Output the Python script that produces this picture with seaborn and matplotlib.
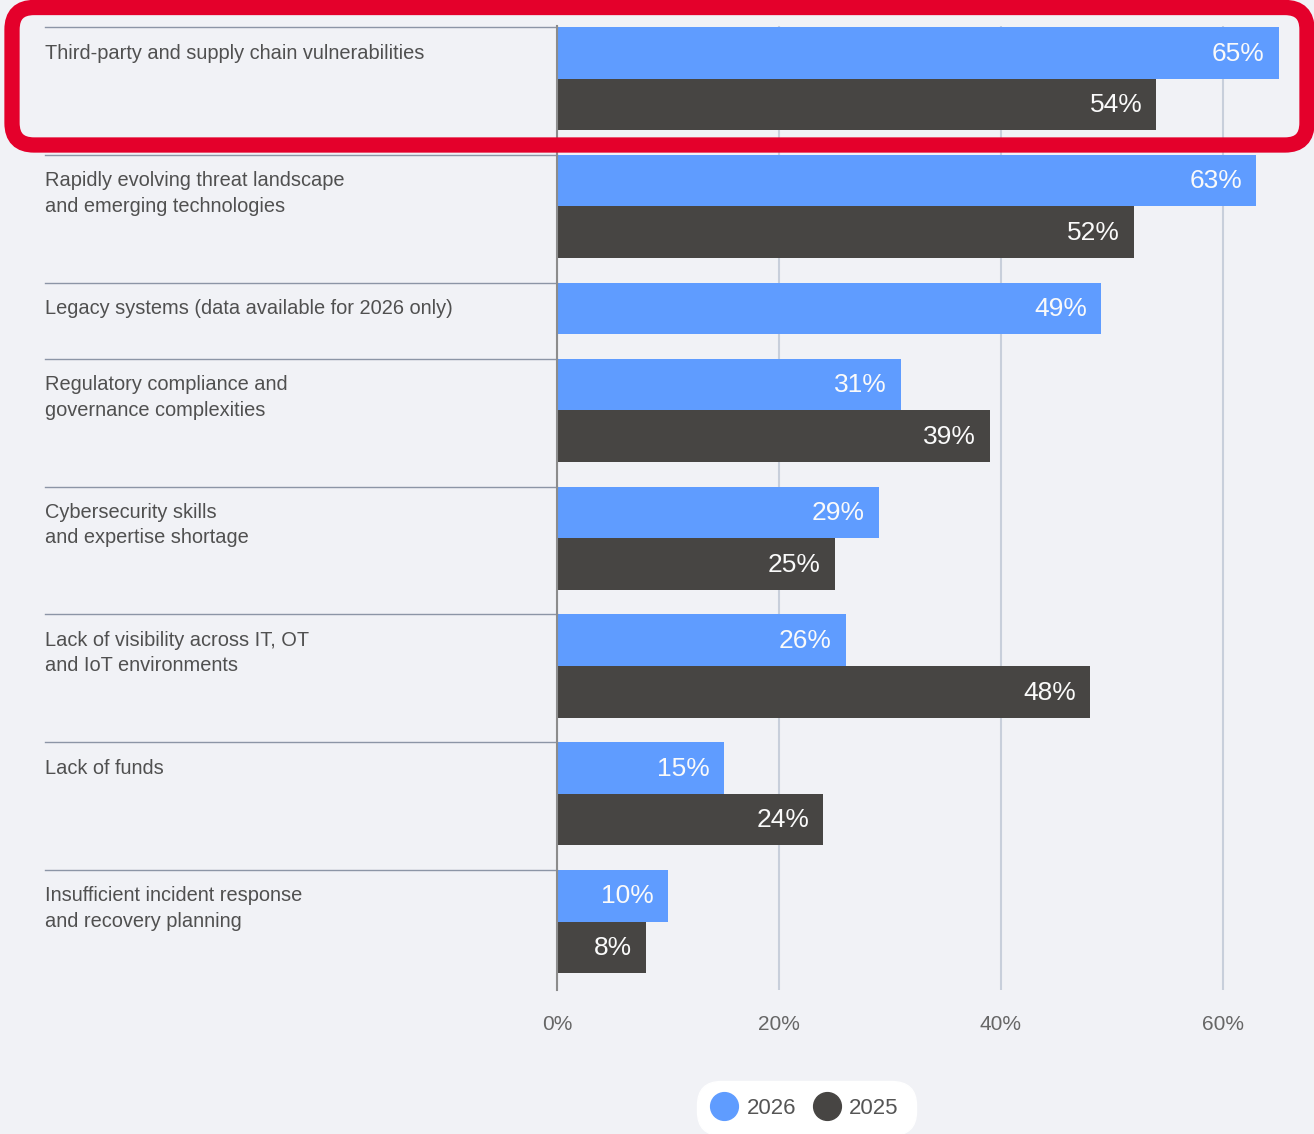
import numpy as np
import pandas as pd
import matplotlib
matplotlib.use("Agg")
import matplotlib.pyplot as plt
import seaborn as sns
from matplotlib.patches import FancyBboxPatch
from matplotlib.lines import Line2D
from matplotlib.transforms import blended_transform_factory, IdentityTransform

# ---------------- data ----------------
categories = [
    "Third-party and supply chain vulnerabilities",
    "Rapidly evolving threat landscape\nand emerging technologies",
    "Legacy systems (data available for 2026 only)",
    "Regulatory compliance and\ngovernance complexities",
    "Cybersecurity skills\nand expertise shortage",
    "Lack of visibility across IT, OT\nand IoT environments",
    "Lack of funds",
    "Insufficient incident response\nand recovery planning",
]
values_2026 = [65, 63, 49, 31, 29, 26, 15, 10]
values_2025 = [54, 52, None, 39, 25, 48, 24, 8]
years = ["2026", "2025"]
tick_values = [0, 20, 40, 60]
tick_labels = ["0%", "20%", "40%", "60%"]

# ---------------- style ----------------
BG = "#F1F2F6"
BLUE = "#5F9CFF"
DARK = "#474543"
RED = "#E4002B"
TEXT = "#505050"
FONT = ["Liberation Sans", "DejaVu Sans"]
GAP = 0.475  # gap after each group, in bar units

plt.rcParams["font.family"] = FONT

rows = []
group_starts = []
pos = 0.0
for cat, v26, v25 in zip(categories, values_2026, values_2025):
    group_starts.append(pos)
    rows.append(dict(category=cat, year="2026", value=v26, y=round(pos + 0.5, 6)))
    n = 1
    if v25 is not None:
        rows.append(dict(category=cat, year="2025", value=v25, y=round(pos + 1.5, 6)))
        n = 2
    pos += n + GAP
df = pd.DataFrame(rows)

W, H = 1314, 1134
fig = plt.figure(figsize=(W / 100, H / 100), dpi=100, facecolor=BG)
ax = fig.add_axes([557 / W, 1 - 990 / H, 754.8 / W, 964 / H])
ax.set_facecolor(BG)

sns.barplot(
    data=df, x="value", y="y", hue="year", hue_order=years,
    palette={"2026": BLUE, "2025": DARK}, orient="h", native_scale=True,
    dodge=False, width=1.0, saturation=1, errorbar=None, legend=False,
    linewidth=0, ax=ax,
)

ax.set_xlim(0, 68)
ax.set_ylim(18.65, -0.02)
ax.set_xlabel("")
ax.set_ylabel("")
ax.set_yticks([])
ax.set_xticks(tick_values)
ax.set_xticklabels(tick_labels)
ax.tick_params(axis="x", length=0, pad=18, labelsize=15, labelcolor="#666666")
ax.xaxis.grid(True, color="#C8CFDB", lw=1.5)
ax.yaxis.grid(False)
ax.set_axisbelow(True)
for side in ["top", "right", "bottom"]:
    ax.spines[side].set_visible(False)
ax.spines["left"].set_color("#8C8C8C")
ax.spines["left"].set_linewidth(1.5)

# value labels
for _, r in df.iterrows():
    ax.annotate(f"{int(r['value'])}%", xy=(r["value"], r["y"]), xytext=(-10, -0.5),
                textcoords="offset points", ha="right", va="center",
                color="#FAFAFA", fontsize=19)

# category labels and separator lines
blend = blended_transform_factory(fig.transFigure, ax.transData)
unit_px = 51.64
for cat, s in zip(categories, group_starts):
    ax.plot([45 / W, 557 / W], [s, s], transform=blend, color="#8C95A6",
            lw=1.0, clip_on=False)
    ax.text(45 / W, s + 16.5 / unit_px, cat, transform=blend, ha="left", va="top",
            fontsize=14.4, color=TEXT, linespacing=1.42, clip_on=False)

# legend
handles = [Line2D([], [], marker="o", ls="", markersize=20,
                  markerfacecolor=c, markeredgecolor=c) for c in (BLUE, DARK)]
leg = fig.legend(handles, years, loc="center",
                 bbox_to_anchor=(806 / W, 1 - 1108 / H), ncol=2, frameon=True,
                 facecolor="white", edgecolor="white", framealpha=1,
                 fontsize=16, labelcolor="#555555", handlelength=1.0,
                 handletextpad=0.5, columnspacing=0.9, borderpad=0.3)
leg.get_frame().set_boxstyle("round,pad=0.45,rounding_size=1.1")

# red highlight box
box = FancyBboxPatch((12, H - 145), 1307 - 12, 145 - 7.5,
                     boxstyle="round,pad=0,rounding_size=22",
                     transform=IdentityTransform(), fill=False,
                     edgecolor=RED, lw=11, clip_on=False)
fig.add_artist(box)

fig.savefig("out.png", dpi=100, facecolor=BG)
